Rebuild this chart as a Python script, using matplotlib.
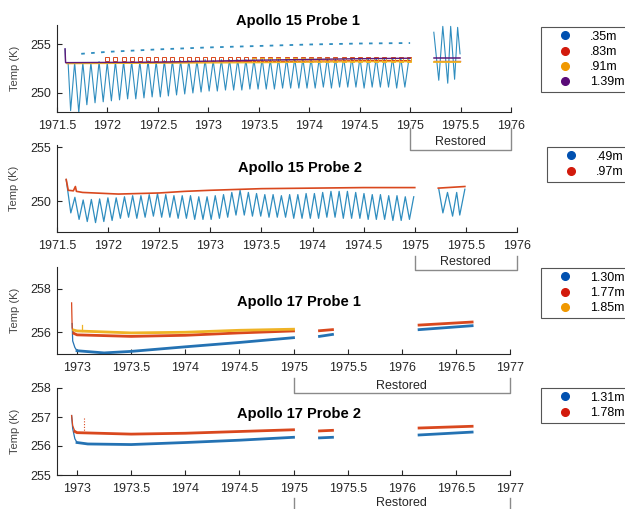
import matplotlib.pyplot as plt
from matplotlib.lines import Line2D

plt.rcParams['font.family'] = ['Liberation Sans', 'DejaVu Sans']

W, H = 625, 509

# lunation cycle of the Apollo 15 site (years): troughs and peaks
a15_trough_t = [1971.635, 1971.716, 1971.796, 1971.877, 1971.958, 1972.039, 1972.120,
                1972.200, 1972.281, 1972.362, 1972.443, 1972.524, 1972.604, 1972.685,
                1972.766, 1972.847, 1972.928, 1973.008, 1973.089, 1973.170, 1973.251,
                1973.332, 1973.412, 1973.493, 1973.574, 1973.655, 1973.736, 1973.816,
                1973.897, 1973.978, 1974.059, 1974.140, 1974.220, 1974.301, 1974.382,
                1974.463, 1974.544, 1974.624, 1974.705, 1974.786, 1974.867, 1974.948]
a15_peak_t = [1971.675, 1971.756, 1971.836, 1971.917, 1971.998, 1972.079, 1972.160,
              1972.240, 1972.321, 1972.402, 1972.483, 1972.564, 1972.644, 1972.725,
              1972.806, 1972.887, 1972.968, 1973.048, 1973.129, 1973.210, 1973.291,
              1973.372, 1973.452, 1973.533, 1973.614, 1973.695, 1973.776, 1973.856,
              1973.937, 1974.018, 1974.099, 1974.180, 1974.260, 1974.341, 1974.422,
              1974.503, 1974.584, 1974.664, 1974.745, 1974.826, 1974.907, 1974.990]

# Apollo 15 Probe 1
p1_035_trough = [248.2, 248.0, 248.8, 249.0, 249.1, 249.2, 249.3, 249.4, 249.4, 249.5,
                 249.6, 249.6, 249.7, 249.8, 249.9, 250.0, 250.1, 250.2, 250.2, 250.3,
                 250.3, 250.3, 250.4, 250.4, 250.4, 250.4, 250.5, 250.5, 250.5, 250.5,
                 250.5, 250.6, 250.5, 250.6, 250.6, 250.6, 250.5, 250.6, 250.6, 250.6,
                 250.5, 250.6]
p1_035_peak = [253.1, 253.1, 253.1, 253.2, 253.1, 253.2, 253.2, 253.2, 253.2, 253.3,
               253.2, 253.3, 253.3, 253.3, 253.3, 253.3, 253.4, 253.3, 253.4, 253.4,
               253.4, 253.4, 253.4, 253.5, 253.4, 253.5, 253.5, 253.5, 253.5, 253.5,
               253.5, 253.6, 253.5, 253.6, 253.6, 253.6, 253.6, 253.6, 253.6, 253.6,
               253.6, 253.6]
p1_035_start_t = [1971.58, 1971.585, 1971.61]
p1_035_start = [254.5, 253.1, 253.1]
p1_035_upper_t = [1971.74, 1972.0, 1972.5, 1973.0, 1973.5, 1974.0, 1974.5, 1975.0]
p1_035_upper = [254.0, 254.2, 254.45, 254.65, 254.8, 254.95, 255.05, 255.1]
p1_035_rest_t = [1975.235, 1975.284, 1975.324, 1975.373, 1975.402, 1975.441, 1975.471, 1975.495]
p1_035_rest = [256.2, 251.3, 256.8, 251.0, 256.8, 251.4, 256.7, 254.0]
p1_line_t = [1971.6, 1972.5, 1973.5, 1974.5, 1975.0]
p1_083 = [253.05, 253.1, 253.2, 253.3, 253.3]
p1_091 = [253.0, 253.05, 253.1, 253.2, 253.2]
p1_139_t = [1971.58, 1971.585, 1971.62, 1972.5, 1973.5, 1974.5, 1975.0]
p1_139 = [254.5, 253.1, 253.1, 253.15, 253.35, 253.5, 253.55]
p1_rest_t = [1975.235, 1975.495]
p1_083_rest = [253.3, 253.3]
p1_091_rest = [253.15, 253.15]
p1_139_rest = [253.55, 253.55]
p1_083_bump = 253.42
p1_091_bump = 253.38

# Apollo 15 Probe 2
p2_049_trough = [248.9, 248.3, 248.1, 248.0, 248.1, 248.2, 248.4, 248.5, 248.4, 248.5,
                 248.6, 248.5, 248.5, 248.4, 248.4, 248.3, 248.3, 248.3, 248.4, 248.5,
                 248.7, 248.7, 248.6, 248.6, 248.5, 248.5, 248.5, 248.4, 248.4, 248.4,
                 248.4, 248.5, 248.5, 248.4, 248.4, 248.4, 248.3, 248.3, 248.3, 248.2,
                 248.2, 248.3]
p2_049_peak = [250.35, 250.1, 250.15, 250.2, 250.3, 250.3, 250.4, 250.5, 250.5, 250.6,
               250.7, 250.6, 250.5, 250.5, 250.5, 250.4, 250.4, 250.5, 250.6, 250.8,
               251.0, 250.8, 250.7, 250.6, 250.6, 250.5, 250.6, 250.6, 250.7, 250.7,
               250.8, 250.9, 250.9, 250.9, 250.8, 250.7, 250.6, 250.6, 250.5, 250.5,
               250.4, 250.4]
p2_049_start_t = [1971.59]
p2_049_start = [252.0]
p2_049_rest_t = [1975.235, 1975.275, 1975.32, 1975.37, 1975.41, 1975.44, 1975.49]
p2_049_rest = [251.1, 248.9, 250.8, 248.6, 250.8, 248.7, 251.1]
p2_097_t = [1971.59, 1971.61, 1971.66, 1971.68, 1971.69, 1971.75, 1972.1, 1972.5,
            1972.75, 1973.0, 1973.5, 1974.0, 1974.5, 1975.0]
p2_097 = [252.0, 251.0, 250.95, 251.35, 250.9, 250.8, 250.65, 250.75, 250.9, 251.0,
          251.15, 251.2, 251.25, 251.25]
p2_097_rest_t = [1975.23, 1975.49]
p2_097_rest = [251.2, 251.35]

# Apollo 17 Probe 1 (spike = start-up transient)
p3_130_spike_t = [1972.955, 1972.96, 1972.98, 1973.0]
p3_130_spike = [256.4, 255.6, 255.3, 255.15]
p3_130_t = [1973.0, 1973.25, 1973.5, 1974.0, 1974.5, 1975.0]
p3_130 = [255.15, 255.05, 255.12, 255.33, 255.53, 255.75]
p3_177_spike_t = [1972.95, 1972.955, 1972.97]
p3_177_spike = [257.35, 256.2, 255.95]
p3_177_t = [1972.97, 1973.0, 1973.5, 1974.0, 1974.5, 1975.0]
p3_177 = [255.95, 255.88, 255.81, 255.86, 255.97, 256.06]
p3_185_spike_t = [1973.05, 1973.05]
p3_185_spike = [256.05, 256.35]
p3_185_t = [1972.97, 1973.0, 1973.5, 1974.0, 1974.5, 1975.0]
p3_185 = [256.1, 256.06, 255.97, 256.0, 256.09, 256.14]
p3_rest1_t = [1975.24, 1975.36]
p3_130_rest1 = [255.81, 255.9]
p3_177_rest1 = [256.07, 256.12]
p3_rest2_t = [1976.16, 1976.65]
p3_130_rest2 = [256.12, 256.3]
p3_177_rest2 = [256.33, 256.47]

# Apollo 17 Probe 2
p4_131_spike_t = [1972.95, 1972.96, 1972.98, 1973.0]
p4_131_spike = [257.05, 256.6, 256.25, 256.12]
p4_131_t = [1973.0, 1973.1, 1973.5, 1974.0, 1974.5, 1975.0]
p4_131 = [256.12, 256.07, 256.05, 256.12, 256.2, 256.3]
p4_178_spike_t = [1972.95, 1972.96, 1972.98]
p4_178_spike = [257.05, 256.7, 256.5]
p4_178_spike2_t = [1973.065, 1973.065]
p4_178_spike2 = [256.45, 257.0]
p4_178_t = [1972.98, 1973.0, 1973.5, 1974.0, 1974.5, 1975.0]
p4_178 = [256.5, 256.46, 256.41, 256.44, 256.5, 256.56]
p4_rest1_t = [1975.24, 1975.36]
p4_131_rest1 = [256.28, 256.3]
p4_178_rest1 = [256.52, 256.54]
p4_rest2_t = [1976.16, 1976.65]
p4_131_rest2 = [256.38, 256.48]
p4_178_rest2 = [256.62, 256.68]

TEAL = '#2f8dbf'
BLUE = '#2472b3'
RED = '#d9481e'
ORANGE = '#efb326'
PURPLE = '#5e1a7a'
LEG_BLUE, LEG_RED, LEG_ORANGE, LEG_PURPLE = '#0050b0', '#d21a0c', '#f09800', '#5a0a78'


def zigzag(start_t, start_v, troughs_t, troughs, peaks_t, peaks):
    xs, ys = list(start_t), list(start_v)
    for tt, tv, pt, pv in zip(troughs_t, troughs, peaks_t, peaks):
        xs += [tt, pt]
        ys += [tv, pv]
    return xs, ys


def new_axes(fig, left, top, right, bottom):
    ax = fig.add_axes([left / W, 1 - bottom / H, (right - left) / W, (bottom - top) / H])
    for s in ['top', 'right']:
        ax.spines[s].set_visible(False)
    for s in ['left', 'bottom']:
        ax.spines[s].set_linewidth(0.8)
        ax.spines[s].set_color('#262626')
    ax.tick_params(direction='in', length=3.5, width=0.8, labelsize=9, colors='#262626')
    ax.tick_params(axis='x', pad=6)
    ax.tick_params(axis='y', pad=4)
    ax.set_ylabel('Temp (K)', fontsize=8, color='#444444')
    ax.yaxis.set_label_coords(-0.082, 0.5)
    ax.set_facecolor('none')
    return ax


def title(fig, x, y, text):
    fig.text(x / W, 1 - y / H, text, ha='center', va='center', fontsize=10.5,
             fontweight='bold', color='black')


def restored(ax, x0, x1, y_top, y_bot, y_text):
    tr = ax.get_xaxis_transform()
    ax.plot([x0, x0, x1, x1], [y_top, y_bot, y_bot, y_top], transform=tr,
            color='#8a8a8a', lw=1.0, clip_on=False)
    ax.text((x0 + x1) / 2, y_text, 'Restored', transform=tr, ha='center', va='center',
            fontsize=9, color='#262626', clip_on=False)


def legend(fig, ax, labels, colors, left, top):
    handles = [Line2D([], [], ls='none', marker='o', ms=5.5, color=c) for c in colors]
    leg = ax.legend(handles, labels, loc='upper left',
                    bbox_to_anchor=(left / W, 1 - top / H), bbox_transform=fig.transFigure,
                    fancybox=False, framealpha=1, edgecolor='#555555', fontsize=9,
                    borderpad=0.3, labelspacing=0.25, handlelength=3.2, handletextpad=0.4,
                    borderaxespad=0)
    leg.get_frame().set_linewidth(0.8)


fig = plt.figure(figsize=(W / 100, H / 100), dpi=100)

# ---- Apollo 15 Probe 1 ----
ax = new_axes(fig, 57, 25, 511, 112)
x, y = zigzag(p1_035_start_t, p1_035_start, a15_trough_t, p1_035_trough, a15_peak_t, p1_035_peak)
ax.plot(x, y, color=TEAL, lw=0.8)
ax.plot(p1_035_upper_t, p1_035_upper, color=TEAL, lw=1.3, ls=(0, (2, 3.5)))
ax.plot(p1_035_rest_t, p1_035_rest, color=TEAL, lw=0.8)
ax.plot(p1_line_t, p1_083, color=RED, lw=1.0)
ax.plot(a15_peak_t[4:], [p1_083_bump] * len(a15_peak_t[4:]), ls='none', marker='s', ms=2.5,
        mfc='none', mec=RED, mew=0.7)
ax.plot(p1_line_t, p1_091, color=ORANGE, lw=1.0)
ax.plot(a15_peak_t[22:], [p1_091_bump] * len(a15_peak_t[22:]), ls='none', marker='s', ms=2.5,
        mfc='none', mec=ORANGE, mew=0.7)
ax.plot(p1_139_t, p1_139, color=PURPLE, lw=1.0)
ax.plot(p1_rest_t, p1_083_rest, color=RED, lw=1.0)
ax.plot(p1_rest_t, p1_091_rest, color=ORANGE, lw=1.3)
ax.plot(p1_rest_t, p1_139_rest, color=PURPLE, lw=1.1)
ax.set_xlim(1971.5, 1976)
ax.set_ylim(248.06, 256.94)
ax.set_xticks([1971.5, 1972, 1972.5, 1973, 1973.5, 1974, 1974.5, 1975, 1975.5, 1976])
ax.set_xticklabels(['1971.5', '1972', '1972.5', '1973', '1973.5', '1974', '1974.5',
                    '1975', '1975.5', '1976'])
ax.set_yticks([250, 255])
restored(ax, 1975, 1976, -0.18, -0.437, -0.35)
legend(fig, ax, ['.35m', '.83m', '.91m', '1.39m'],
       [LEG_BLUE, LEG_RED, LEG_ORANGE, LEG_PURPLE], 541, 27)
title(fig, 298, 21, 'Apollo 15 Probe 1')

# ---- Apollo 15 Probe 2 ----
ax = new_axes(fig, 57, 145, 517, 232)
x, y = zigzag(p2_049_start_t, p2_049_start, a15_trough_t, p2_049_trough, a15_peak_t, p2_049_peak)
ax.plot(x, y, color=TEAL, lw=0.9)
ax.plot(p2_049_rest_t, p2_049_rest, color=TEAL, lw=0.9)
ax.plot(p2_097_t, p2_097, color=RED, lw=1.2)
ax.plot(p2_097_rest_t, p2_097_rest, color=RED, lw=1.2)
ax.set_xlim(1971.5, 1976)
ax.set_ylim(247.13, 255.2)
ax.set_xticks([1971.5, 1972, 1972.5, 1973, 1973.5, 1974, 1974.5, 1975, 1975.5, 1976])
ax.set_xticklabels(['1971.5', '1972', '1972.5', '1973', '1973.5', '1974', '1974.5',
                    '1975', '1975.5', '1976'])
ax.set_yticks([250, 255])
restored(ax, 1975, 1976, -0.276, -0.437, -0.345)
legend(fig, ax, ['.49m', '.97m'], [LEG_BLUE, LEG_RED], 547, 147)
title(fig, 300, 168, 'Apollo 15 Probe 2')

# ---- Apollo 17 Probe 1 ----
ax = new_axes(fig, 57, 267, 510, 354)
ax.plot(p3_130_spike_t, p3_130_spike, color=BLUE, lw=0.9)
ax.plot(p3_177_spike_t, p3_177_spike, color=RED, lw=0.9)
ax.plot(p3_185_spike_t, p3_185_spike, color=ORANGE, lw=0.9)
ax.plot(p3_130_t, p3_130, color=BLUE, lw=2.0)
ax.plot(p3_177_t, p3_177, color=RED, lw=2.0)
ax.plot(p3_185_t, p3_185, color=ORANGE, lw=2.0)
ax.plot(p3_rest1_t, p3_130_rest1, color=BLUE, lw=2.0)
ax.plot(p3_rest1_t, p3_177_rest1, color=RED, lw=2.0)
ax.plot(p3_rest2_t, p3_130_rest2, color=BLUE, lw=2.0)
ax.plot(p3_rest2_t, p3_177_rest2, color=RED, lw=2.0)
ax.set_xlim(1972.815, 1977)
ax.set_ylim(255, 259)
ax.set_xticks([1973, 1973.5, 1974, 1974.5, 1975, 1975.5, 1976, 1976.5, 1977])
ax.set_xticklabels(['1973', '1973.5', '1974', '1974.5', '1975', '1975.5', '1976',
                    '1976.5', '1977'])
ax.set_yticks([256, 258])
restored(ax, 1975, 1977, -0.276, -0.448, -0.368)
legend(fig, ax, ['1.30m', '1.77m', '1.85m'], [LEG_BLUE, LEG_RED, LEG_ORANGE], 541, 268)
title(fig, 299, 302, 'Apollo 17 Probe 1')

# ---- Apollo 17 Probe 2 ----
ax = new_axes(fig, 57, 388, 510, 475)
ax.plot(p4_131_spike_t, p4_131_spike, color=BLUE, lw=0.9)
ax.plot(p4_178_spike_t, p4_178_spike, color=RED, lw=0.9)
ax.plot(p4_178_spike2_t, p4_178_spike2, color=RED, lw=0.8, ls=(0, (1, 1.5)))
ax.plot(p4_131_t, p4_131, color=BLUE, lw=2.0)
ax.plot(p4_178_t, p4_178, color=RED, lw=2.0)
ax.plot(p4_rest1_t, p4_131_rest1, color=BLUE, lw=2.0)
ax.plot(p4_rest1_t, p4_178_rest1, color=RED, lw=2.0)
ax.plot(p4_rest2_t, p4_131_rest2, color=BLUE, lw=2.0)
ax.plot(p4_rest2_t, p4_178_rest2, color=RED, lw=2.0)
ax.set_xlim(1972.815, 1977)
ax.set_ylim(255, 258)
ax.set_xticks([1973, 1973.5, 1974, 1974.5, 1975, 1975.5, 1976, 1976.5, 1977])
ax.set_xticklabels(['1973', '1973.5', '1974', '1974.5', '1975', '1975.5', '1976',
                    '1976.5', '1977'])
ax.set_yticks([255, 256, 257, 258])
restored(ax, 1975, 1977, -0.264, -0.5, -0.325)
legend(fig, ax, ['1.31m', '1.78m'], [LEG_BLUE, LEG_RED], 541, 388)
title(fig, 299, 414, 'Apollo 17 Probe 2')

fig.savefig('out.png', dpi=100)
